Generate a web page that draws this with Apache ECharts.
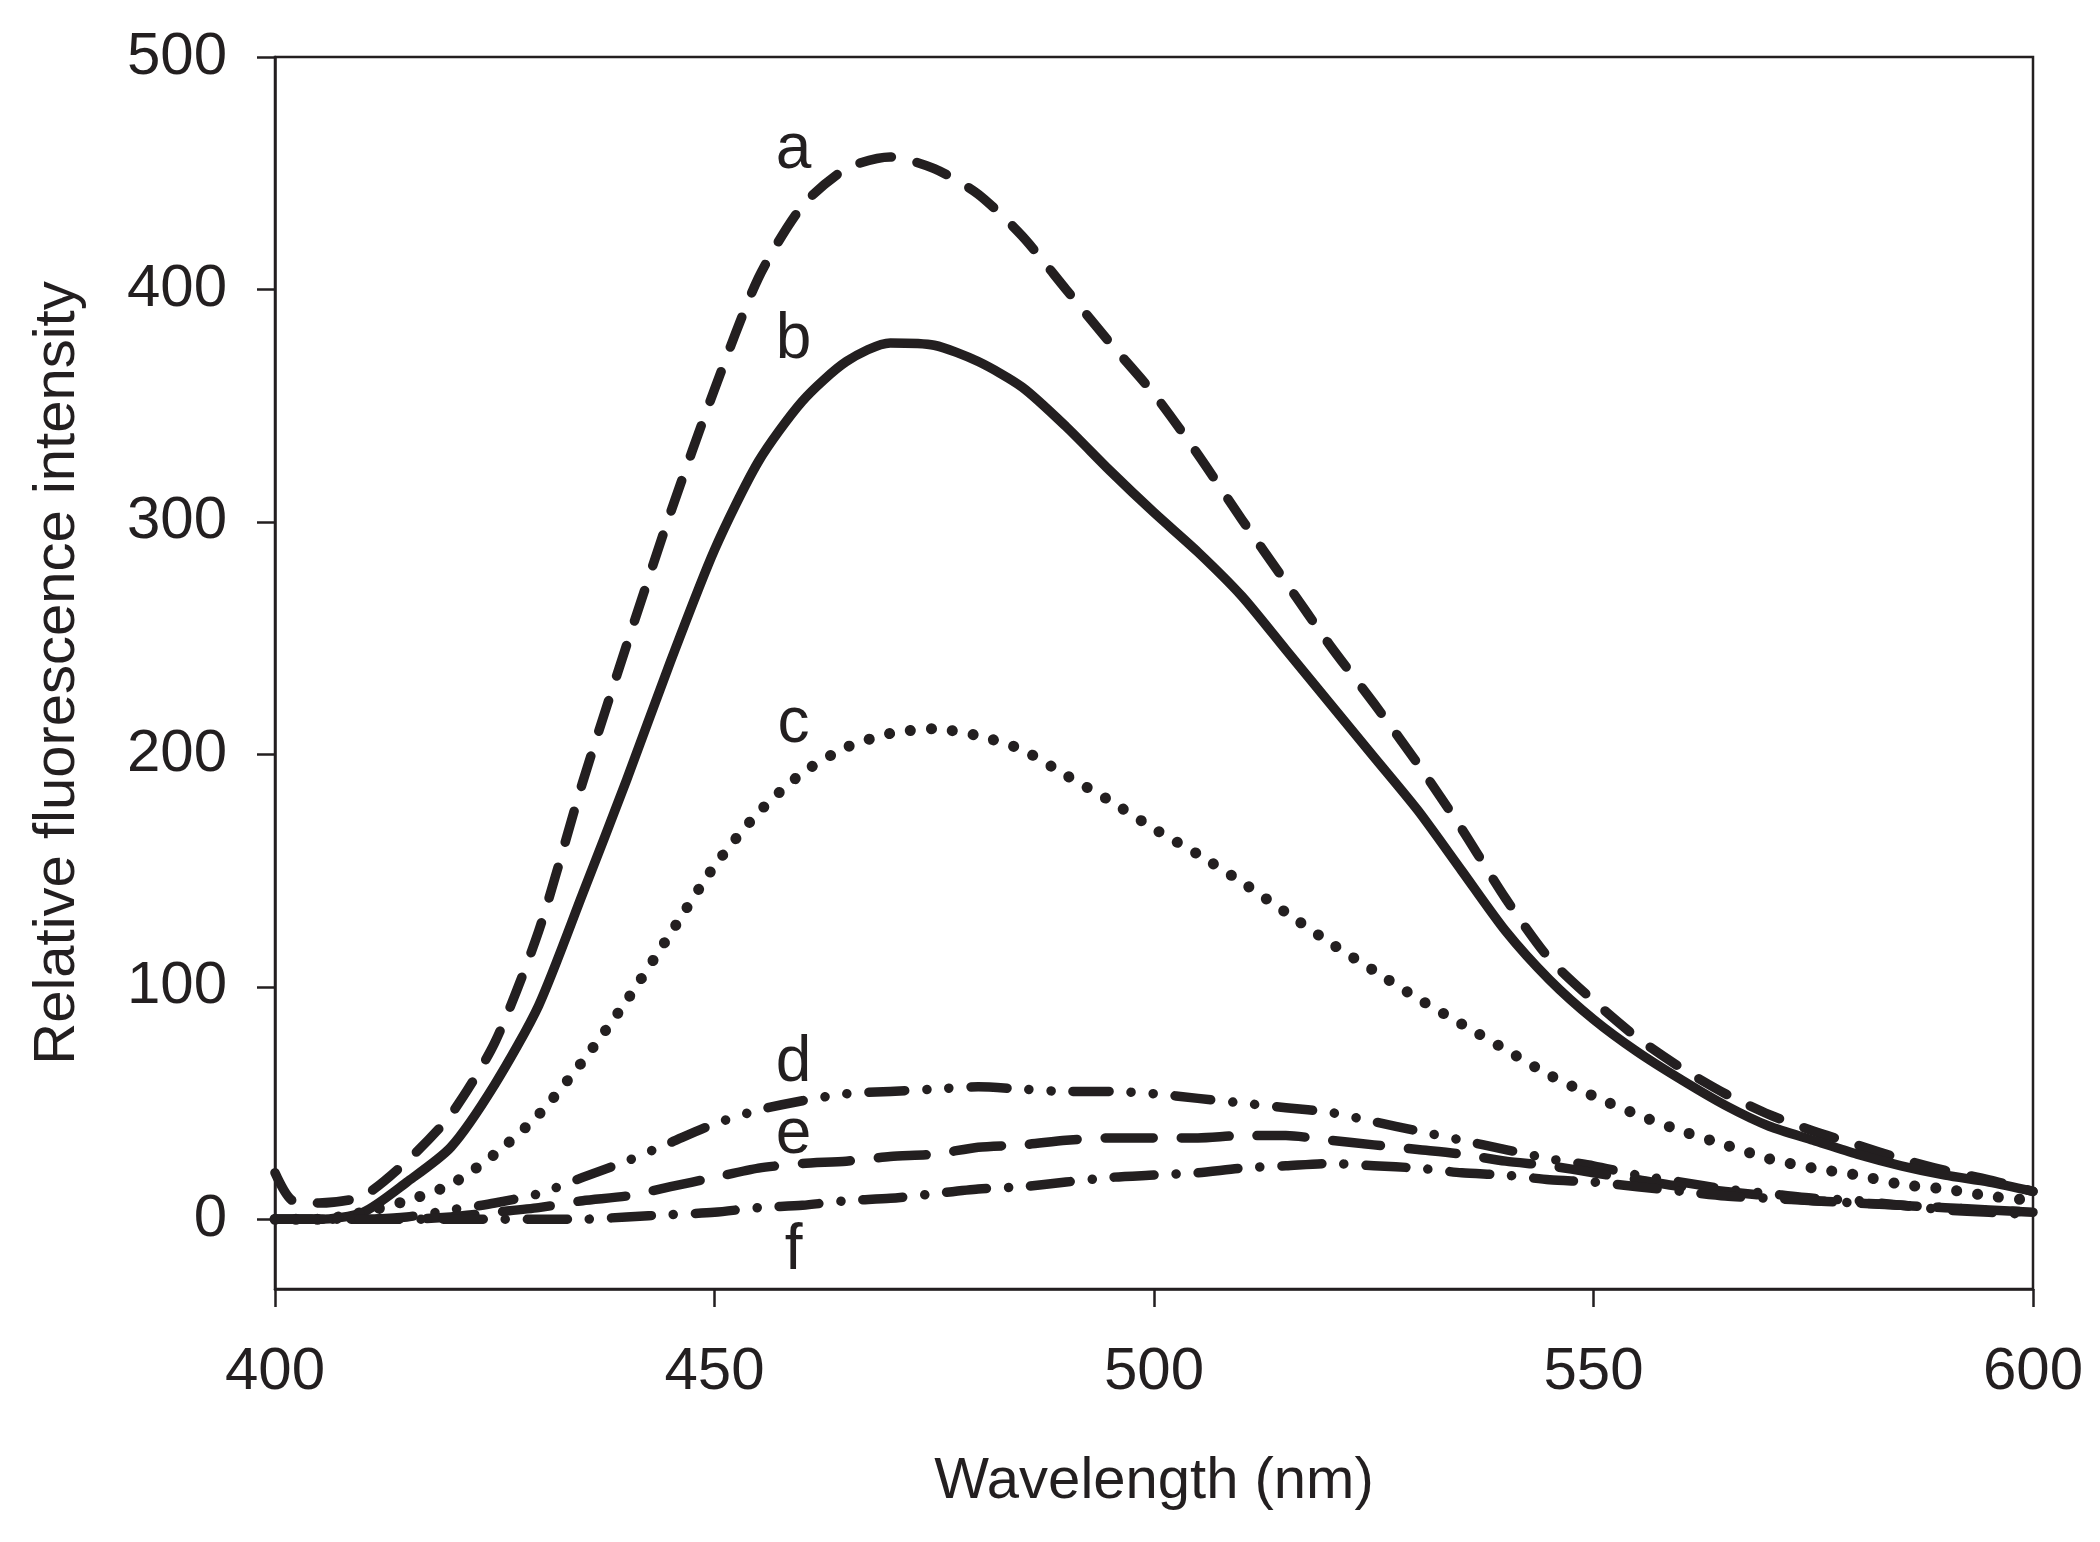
<!DOCTYPE html>
<html>
<head>
<meta charset="utf-8">
<script src="https://cdn.jsdelivr.net/npm/echarts@6/dist/echarts.min.js"></script>
<style>
  html, body { margin: 0; padding: 0; background: #ffffff; }
  #chart { width: 2100px; height: 1542px; }
</style>
</head>
<body>
<div id="chart"></div>
<script>
// ---- data ----
const wavelengths = [400, 402, 405, 410, 415, 420, 425, 430, 435, 440, 445, 450, 455, 460, 465, 470, 475, 480, 485, 490, 495, 500, 505, 510, 515, 520, 525, 530, 535, 540, 545, 550, 555, 560, 565, 570, 575, 580, 585, 590, 595, 600];

const curveA = [20, 8, 7, 10, 25, 45, 76, 124, 188, 247, 304, 357, 405, 436, 452, 457, 452, 441, 423, 400, 377, 355, 329, 301, 274, 247, 222, 196, 168, 138, 112, 94, 78, 65, 54, 45, 38, 32, 26, 21, 17, 12];
const curveB = [0, 0, 0, 3, 16, 31, 58, 92, 140, 189, 240, 288, 326, 352, 369, 377, 376, 369, 358, 341, 322, 304, 287, 268, 245, 222, 199, 176, 150, 124, 103, 86, 72, 60, 49, 40, 34, 28, 23, 19, 16, 12];
const curveC = [0, 0, 0, 3, 8, 15, 28, 45, 68, 94, 123, 152, 175, 192, 203, 209, 211, 208, 202, 191, 180, 168, 157, 145, 132, 119, 107, 95, 84, 73, 62, 53, 45, 38, 32, 26, 22, 19, 15, 13, 10, 8];
const curveD = [0, 0, 0, 0, 1, 4, 7, 11, 18, 25, 33, 41, 47, 51, 54, 55, 56, 57, 56, 55, 55, 54, 52, 50, 48, 46, 42, 38, 34, 30, 26, 23, 19, 16, 13, 11, 9, 8, 6, 5, 4, 3];
const curveE = [0, 0, 0, 0, 0, 1, 3, 5, 8, 10, 14, 18, 22, 24, 25, 27, 28, 31, 32, 34, 35, 35, 35, 36, 36, 34, 32, 30, 28, 25, 23, 20, 17, 14, 12, 10, 8, 7, 6, 5, 4, 3];
const curveF = [0, 0, 0, 0, 0, 0, 0, 0, 0, 1, 2, 3, 5, 6, 8, 9, 11, 13, 14, 16, 18, 19, 20, 22, 23, 24, 23, 22, 20, 19, 17, 16, 14, 12, 10, 9, 8, 7, 6, 4, 3, 2];

const curveNames = ['a', 'b', 'c', 'd', 'e', 'f'];
const labelWavelength = [459, 459, 459, 459, 459, 459];
const labelIntensity = [460, 378, 213, 67, 36, -14];

const xTicks = [400, 450, 500, 550, 600];
const yTicks = [0, 100, 200, 300, 400, 500];

// ---- styling ----
const INK = '#231f20';
const FONT = '"Liberation Sans", Arial, Helvetica, sans-serif';
const dashStyles = [
  [32, 26],                        // a: long dash
  'solid',                         // b: solid
  [0.1, 21],                       // c: dotted
  [36, 22, 0.1, 22, 0.1, 22],      // d: dash-dot-dot
  [48, 28],                        // e: dash
  [40, 22, 0.1, 22]                // f: dash-dot
];
const curves = [curveA, curveB, curveC, curveD, curveE, curveF];

const lineSeries = curves.map((vals, i) => ({
  name: curveNames[i],
  type: 'line',
  data: wavelengths.map((w, k) => [w, vals[k]]),
  showSymbol: false,
  smooth: 0.25,
  silent: true,
  lineStyle: {
    color: INK,
    width: i === 2 ? 11 : 9.5,
    type: dashStyles[i],
    cap: 'round',
    join: 'round',
    opacity: 1
  },
  z: 2
}));

const labelSeries = {
  type: 'scatter',
  symbolSize: 0,
  silent: true,
  itemStyle: { opacity: 1, color: INK },
  data: curveNames.map((n, i) => ({ name: n, value: [labelWavelength[i], labelIntensity[i]] })),
  label: {
    show: true,
    position: 'inside',
    formatter: '{b}',
    fontFamily: FONT,
    fontSize: 64,
    color: INK,
    opacity: 1
  },
  z: 5
};

const chart = echarts.init(document.getElementById('chart'), null, { renderer: 'canvas' });
chart.setOption({
  backgroundColor: '#ffffff',
  animation: false,
  grid: {
    left: 275, right: 67, top: 57, bottom: 253,
    show: true, borderColor: INK, borderWidth: 2.5, backgroundColor: 'transparent'
  },
  xAxis: {
    type: 'value',
    min: 400, max: 600, interval: 50,
    name: 'Wavelength (nm)',
    nameLocation: 'middle',
    nameGap: 164,
    nameTextStyle: { fontFamily: FONT, fontSize: 58, color: INK },
    axisLine: { show: true, onZero: false, lineStyle: { color: INK, width: 2.5 } },
    axisTick: { show: true, inside: false, length: 18, lineStyle: { color: INK, width: 2.5 }, customValues: xTicks },
    axisLabel: { fontFamily: FONT, fontSize: 60, color: INK, margin: 53, customValues: xTicks },
    splitLine: { show: false }
  },
  yAxis: {
    type: 'value',
    min: -30, max: 500,
    name: 'Relative fluorescence intensity',
    nameLocation: 'middle',
    nameGap: 188,
    nameRotate: 90,
    nameTextStyle: { fontFamily: FONT, fontSize: 58, color: INK },
    axisLine: { show: true, onZero: false, lineStyle: { color: INK, width: 2.5 } },
    axisTick: { show: true, inside: false, length: 18, lineStyle: { color: INK, width: 2.5 }, customValues: yTicks },
    axisLabel: { fontFamily: FONT, fontSize: 60, color: INK, margin: 48, customValues: yTicks },
    splitLine: { show: false }
  },
  series: lineSeries.concat([labelSeries])
});
</script>
</body>
</html>
